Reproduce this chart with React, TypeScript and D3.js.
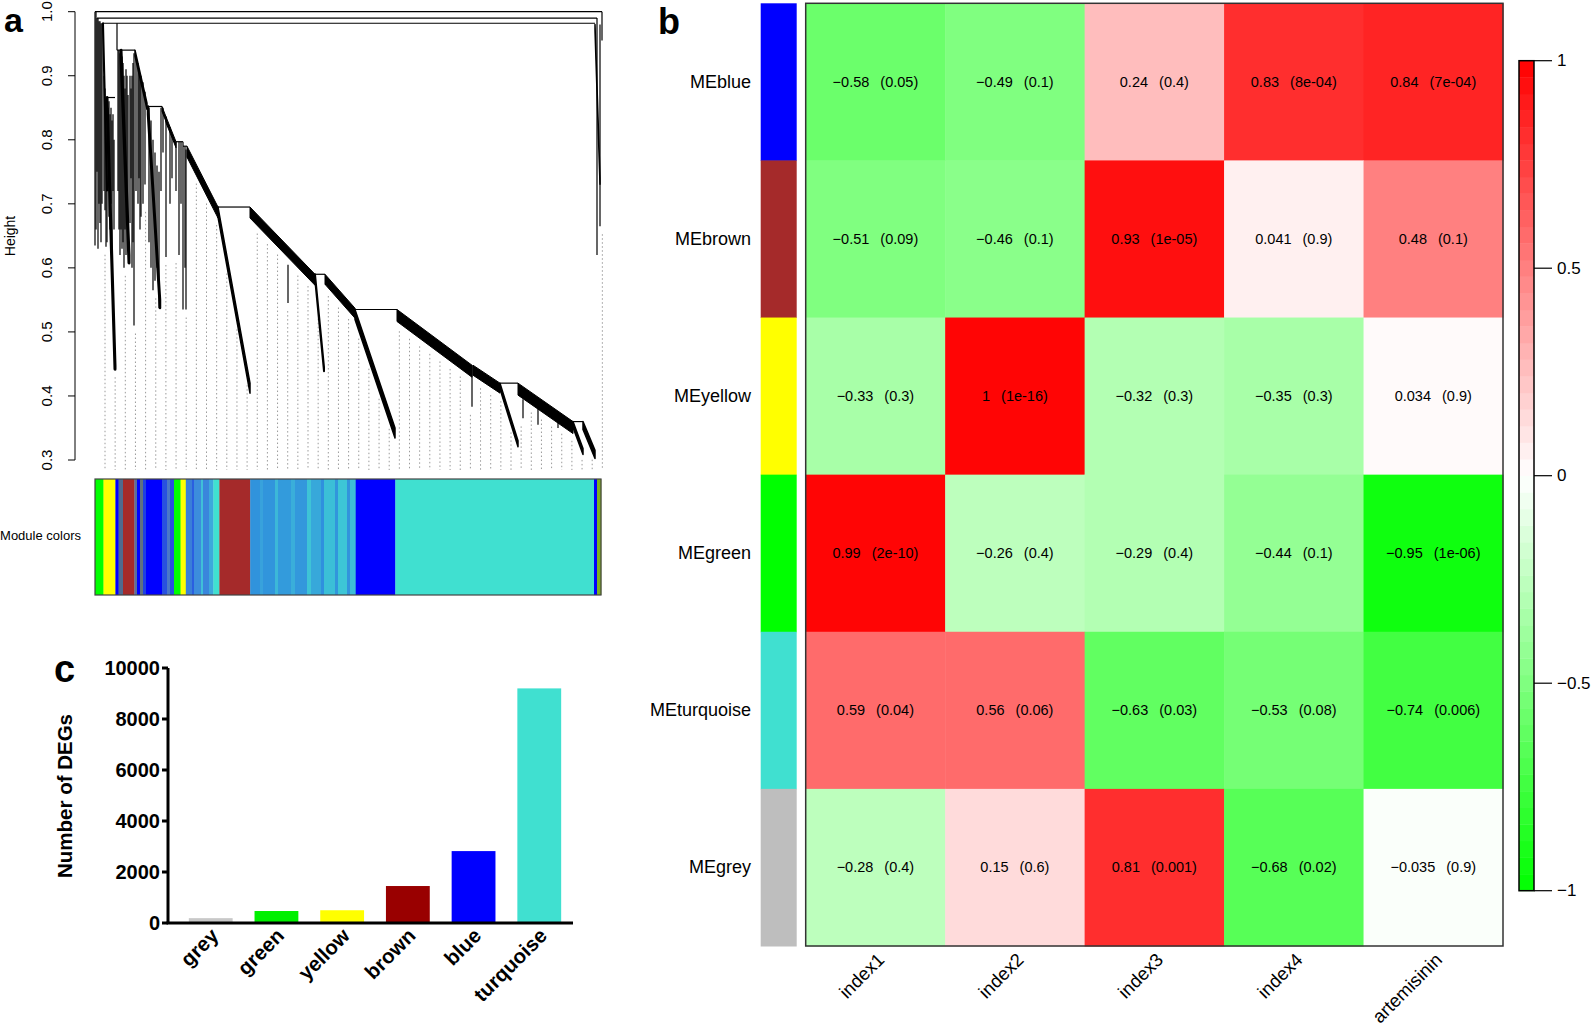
import React from "react";
import * as d3 from "d3";

const FONT = "'Liberation Sans', Arial, Helvetica, sans-serif";

// ---- panel a: gene dendrogram, x = leaf order (0..507), heights
// horizontal merge bars: [leafLeft, leafRight, height]
const dendroJoins = [
  [0, 507, 1.0],
  [2, 502, 0.99],
  [8, 500, 0.982],
  [11, 20, 0.866],
  [22, 40, 0.94],
  [53, 67, 0.852],
  [81, 88, 0.797],
  [88, 92, 0.79],
  [123, 155, 0.695],
  [220, 230, 0.59],
  [260, 302, 0.535],
  [405, 423, 0.42],
  [478, 488, 0.36],
];
// single branches: [leaf, heightTop, heightBottom]
const dendroStems = [
  [0, 1.0, 0.635], [1, 1.0, 0.66], [2, 0.99, 0.75], [3, 0.99, 0.63], [4, 0.985, 0.7],
  [5, 0.985, 0.67], [6, 0.982, 0.64], [7, 0.982, 0.7], [9, 0.9, 0.72], [10, 0.88, 0.69],
  [11, 0.866, 0.633], [12, 0.866, 0.64], [13, 0.85, 0.72], [14, 0.86, 0.68], [15, 0.84, 0.66],
  [16, 0.85, 0.7], [17, 0.83, 0.6], [18, 0.84, 0.72], [19, 0.8, 0.66], [22, 0.982, 0.94],
  [23, 0.94, 0.72], [24, 0.94, 0.66], [25, 0.935, 0.62], [26, 0.93, 0.66], [27, 0.93, 0.63],
  [28, 0.92, 0.64], [29, 0.9, 0.6], [30, 0.88, 0.66], [31, 0.91, 0.62], [32, 0.9, 0.7],
  [33, 0.87, 0.63], [35, 0.9, 0.67], [36, 0.88, 0.74], [37, 0.9, 0.6], [38, 0.92, 0.64],
  [39, 0.935, 0.51], [41, 0.93, 0.72], [43, 0.92, 0.7], [44, 0.91, 0.74], [45, 0.9, 0.66],
  [46, 0.9, 0.68], [48, 0.89, 0.7], [50, 0.875, 0.73], [54, 0.85, 0.64], [56, 0.83, 0.6],
  [58, 0.8, 0.565], [60, 0.78, 0.58], [62, 0.76, 0.6], [64, 0.75, 0.537], [66, 0.85, 0.72],
  [68, 0.85, 0.78], [71, 0.836, 0.617], [75, 0.82, 0.7], [77, 0.81, 0.74], [81, 0.797, 0.72],
  [84, 0.797, 0.62], [86, 0.797, 0.7], [88, 0.797, 0.535], [90, 0.79, 0.6], [91, 0.785, 0.535],
  [193, 0.605, 0.545], [377, 0.448, 0.383], [428, 0.395, 0.365], [443, 0.385, 0.355],
  [463, 0.37, 0.35], [502, 0.99, 0.62], [505, 0.98, 0.665], [507, 1.0, 0.955],
];
// dense chained clusters: [leafStart, hStart, leafEnd, hEnd, thickness px, stroke]
const dendroBands = [
  [8, 0.982, 12, 0.73, 6, 2],
  [12, 0.866, 20, 0.448, 4, 3],
  [26, 0.94, 34, 0.62, 8, 3],
  [40, 0.94, 52, 0.857, 6, 1.5],
  [53, 0.852, 65, 0.55, 8, 2.5],
  [67, 0.852, 71, 0.836, 5, 1],
  [71, 0.836, 81, 0.797, 6, 1],
  [92, 0.79, 123, 0.695, 11, 1],
  [123, 0.695, 155, 0.42, 10, 1.5],
  [155, 0.695, 220, 0.59, 11, 1],
  [220, 0.59, 229, 0.445, 4, 2],
  [230, 0.59, 260, 0.537, 10, 1],
  [260, 0.535, 300, 0.35, 10, 1.5],
  [302, 0.535, 377, 0.448, 12, 1],
  [378, 0.448, 405, 0.42, 10, 1],
  [405, 0.42, 423, 0.33, 6, 1.5],
  [423, 0.42, 478, 0.36, 12, 1],
  [478, 0.36, 488, 0.318, 6, 1.5],
  [488, 0.36, 500, 0.315, 8, 1.5],
  [500, 0.98, 505, 0.74, 6, 1.5],
];
// module colour strip: [leafStart, leafEnd, colour]
const moduleSegments: [number, number, string][] = [
  [0, 8.5, "#00ff00"], [8.5, 20.4, "#ffff00"], [20.4, 23.6, "#0000ff"], [23.6, 28, "#4f6a8f"],
  [28, 39.4, "#a52a2a"], [39.4, 42, "#5a6e9a"], [42, 45, "#0000ff"], [45, 48, "#607080"],
  [48, 51, "#1e40e0"], [51, 67, "#0000ff"], [67, 72, "#2850e0"], [72, 75, "#4a78c8"],
  [75, 79, "#2850e0"], [79, 85.6, "#00ff00"], [85.6, 90.8, "#ffff00"], [90.8, 97, "#3a7fd8"],
  [97, 99, "#2a5fe0"], [99, 106, "#3c8ddc"], [106, 108, "#40c0d8"], [108, 114, "#3a86dc"],
  [114, 118.4, "#3ca8dc"], [118.4, 124.4, "#40e0d0"], [124.4, 155.2, "#a52a2a"],
  [155.2, 165, "#3093dc"], [165, 168, "#38a2dc"], [168, 180, "#3195dc"], [180, 183, "#3cb8d8"],
  [183, 196, "#339bdc"], [196, 200, "#3aaeda"], [200, 212, "#3398dc"], [212, 216, "#3ec4d6"],
  [216, 226, "#37a8da"], [226, 229, "#2f90de"], [229, 240, "#3bbfd7"], [240, 243, "#3196dc"],
  [243, 252, "#3dc6d6"], [252, 255, "#3294dc"], [255, 260.7, "#3dbcd7"],
  [260.7, 300.3, "#0000ff"], [300.3, 499, "#40e0d0"], [499, 502, "#0000ff"], [502, 506, "#7fb020"],
];
const heightTicks = [0.3, 0.4, 0.5, 0.6, 0.7, 0.8, 0.9, 1.0];

// ---- panel b: module-trait relationships
const traits = ["index1", "index2", "index3", "index4", "artemisinin"];
const modules = ["MEblue", "MEbrown", "MEyellow", "MEgreen", "MEturquoise", "MEgrey"];
const moduleHex = ["#0000ff", "#a52a2a", "#ffff00", "#00ff00", "#40e0d0", "#bebebe"];
const corValues = [
  [-0.58, -0.49, 0.24, 0.83, 0.84],
  [-0.51, -0.46, 0.93, 0.041, 0.48],
  [-0.33, 1, -0.32, -0.35, 0.034],
  [0.99, -0.26, -0.29, -0.44, -0.95],
  [0.59, 0.56, -0.63, -0.53, -0.74],
  [-0.28, 0.15, 0.81, -0.68, -0.035],
];
const pValues = [
  ["0.05", "0.1", "0.4", "8e-04", "7e-04"],
  ["0.09", "0.1", "1e-05", "0.9", "0.1"],
  ["0.3", "1e-16", "0.3", "0.3", "0.9"],
  ["2e-10", "0.4", "0.4", "0.1", "1e-06"],
  ["0.04", "0.06", "0.03", "0.08", "0.006"],
  ["0.4", "0.6", "0.001", "0.02", "0.9"],
];
const legendTicks = [1, 0.5, 0, -0.5, -1];

// ---- panel c: DEGs per module
const degModules = ["grey", "green", "yellow", "brown", "blue", "turquoise"];
const degCounts = [190, 470, 500, 1450, 2820, 9200];
const degColors = ["#c8c8c8", "#00f000", "#ffff00", "#990000", "#0000ff", "#40e0d0"];
const degTicks = [0, 2000, 4000, 6000, 8000, 10000];

const minus = (s: string) => s.replace("-", "\u2212");

function PanelA() {
  const x = d3.scaleLinear().domain([0, 507]).range([95, 602]);
  const y = d3.scaleLinear().domain([0.3, 1]).range([460, 11.7]);

  // lowest drawn point of the tree above a leaf position, for the dotted guides
  const bottomAt = (leaf: number) => {
    let low = -1;
    dendroBands.forEach(([xs, hs, xe, he, t]) => {
      if (leaf >= xs - 2 && leaf <= xe + 2) {
        const f = Math.max(0, Math.min(1, (leaf - xs) / (xe - xs)));
        low = Math.max(low, y(hs + (he - hs) * f) + t);
      }
    });
    dendroStems.forEach(([s, , hb]) => {
      if (Math.abs(s - leaf) <= 3) low = Math.max(low, y(hb));
    });
    return low < 0 ? y(0.75) : low;
  };
  const guides = d3.range(10, 508, 10.15);

  return (
    <g>
      <text x={4} y={32} fontSize={34} fontWeight="bold" fontFamily={FONT}>a</text>
      <line x1={75} x2={75} y1={y(1)} y2={y(0.3)} stroke="#000" strokeWidth={1} />
      {heightTicks.map((t) => (
        <g key={t}>
          <line x1={68} x2={75} y1={y(t)} y2={y(t)} stroke="#000" />
          <text transform={`translate(52,${y(t)}) rotate(-90)`} textAnchor="middle"
            fontSize={15} fontFamily={FONT}>{t.toFixed(1)}</text>
        </g>
      ))}
      <text transform="translate(15,236) rotate(-90)" textAnchor="middle" fontSize={14}
        fontFamily={FONT}>Height</text>

      {guides.map((g) => (
        <line key={g} x1={x(g)} x2={x(g)} y1={bottomAt(g) + 8} y2={470}
          stroke="#9a9a9a" strokeWidth={1} strokeDasharray="1.5,2.5" />
      ))}

      {dendroJoins.map(([a, b, h], i) => (
        <line key={"j" + i} x1={x(a)} x2={x(b)} y1={y(h)} y2={y(h)} stroke="#000" strokeWidth={1.2} />
      ))}
      {dendroStems.map(([s, ht, hb], i) => (
        <line key={"s" + i} x1={x(s)} x2={x(s)} y1={y(ht)} y2={y(hb)} stroke="#000" strokeWidth={1.2} />
      ))}
      {dendroBands.map(([xs, hs, xe, he, t, sw], i) => (
        <polygon key={"b" + i}
          points={`${x(xs)},${y(hs)} ${x(xe)},${y(he)} ${x(xe)},${y(he) + t} ${x(xs)},${y(hs) + t}`}
          fill="#000" stroke="#000" strokeWidth={sw} strokeLinejoin="round" />
      ))}

      {moduleSegments.map(([a, b, c], i) => (
        <rect key={"m" + i} x={x(a)} y={479} width={x(b) - x(a) + 0.3} height={116} fill={c} />
      ))}
      <rect x={x(0)} y={479} width={x(506) - x(0)} height={116} fill="none" stroke="#444" strokeWidth={1.2} />
      <text x={81} y={540} textAnchor="end" fontSize={13} fontFamily={FONT}>Module colors</text>
    </g>
  );
}

function PanelB() {
  const xb = d3.scaleBand<string>().domain(traits).range([805.7, 1503]);
  const yb = d3.scaleBand<string>().domain(modules).range([3.3, 946]);
  const ramp = d3.scaleLinear<string>().domain([-1, 0, 1]).range(["#00ff00", "#ffffff", "#ff0000"]);
  const nCol = 50;
  const palette = d3.range(nCol).map((i) => ramp(-1 + ((i + 0.5) * 2) / nCol));
  const colorOf = d3.scaleQuantize<string>().domain([-1, 1]).range(palette);
  const yl = d3.scaleLinear().domain([-1, 1]).range([890.7, 60.7]);
  const step = 2 / nCol;

  return (
    <g fontFamily={FONT}>
      <text x={658} y={34} fontSize={36} fontWeight="bold">b</text>
      {modules.map((m, r) => (
        <g key={m}>
          <rect x={760.7} y={yb(m)!} width={36} height={yb.bandwidth() + 0.5} fill={moduleHex[r]} />
          <text x={751} y={yb(m)! + yb.bandwidth() / 2} textAnchor="end" dominantBaseline="central"
            fontSize={18}>{m}</text>
          {traits.map((t, c) => (
            <g key={t}>
              <rect x={xb(t)!} y={yb(m)!} width={xb.bandwidth() + 0.5} height={yb.bandwidth() + 0.5}
                fill={colorOf(corValues[r][c])} />
              <text x={xb(t)! + xb.bandwidth() / 2} y={yb(m)! + yb.bandwidth() / 2} textAnchor="middle"
                dominantBaseline="central" fontSize={14.5}>
                <tspan>{minus(String(corValues[r][c]))}</tspan>
                <tspan dx={11}>({pValues[r][c]})</tspan>
              </text>
            </g>
          ))}
        </g>
      ))}
      <rect x={805.7} y={3.3} width={1503 - 805.7} height={946 - 3.3} fill="none" stroke="#333" strokeWidth={1.5} />
      {traits.map((t) => (
        <text key={t} transform={`translate(${xb(t)! + xb.bandwidth() / 2 + 10},961) rotate(-45)`}
          textAnchor="end" fontSize={18.5}>{t}</text>
      ))}

      {palette.map((c, i) => (
        <rect key={i} x={1519} y={yl(-1 + (i + 1) * step)} width={15}
          height={yl(-1 + i * step) - yl(-1 + (i + 1) * step) + 0.4} fill={c} />
      ))}
      <rect x={1519} y={yl(1)} width={15} height={yl(-1) - yl(1)} fill="none" stroke="#000" strokeWidth={1.5} />
      {legendTicks.map((v) => (
        <g key={v}>
          <line x1={1534} x2={1552} y1={yl(v)} y2={yl(v)} stroke="#000" strokeWidth={1.2} />
          <text x={1557} y={yl(v)} dominantBaseline="central" fontSize={17}>{minus(String(v))}</text>
        </g>
      ))}
    </g>
  );
}

function PanelC() {
  const axisX = 168;
  const xc = d3.scaleBand<string>().domain(degModules).range([177, 573]).paddingInner(0.333).paddingOuter(0.18);
  const yc = d3.scaleLinear().domain([0, 10000]).range([923, 668]);
  return (
    <g fontFamily={FONT} fontWeight="bold">
      <text x={54} y={682} fontSize={38}>c</text>
      {degModules.map((m, i) => (
        <rect key={m} x={xc(m)!} y={yc(degCounts[i])} width={xc.bandwidth()} height={yc(0) - yc(degCounts[i])}
          fill={degColors[i]} />
      ))}
      <line x1={axisX} x2={axisX} y1={yc(10000)} y2={yc(0)} stroke="#000" strokeWidth={3} />
      <line x1={axisX - 1.5} x2={573} y1={yc(0)} y2={yc(0)} stroke="#000" strokeWidth={3} />
      {degTicks.map((t) => (
        <g key={t}>
          <line x1={axisX - 6} x2={axisX} y1={yc(t)} y2={yc(t)} stroke="#000" strokeWidth={3} />
          <text x={axisX - 8} y={yc(t)} textAnchor="end" dominantBaseline="central" fontSize={20}>{t}</text>
        </g>
      ))}
      <text transform="translate(72,796) rotate(-90)" textAnchor="middle" fontSize={20.5}>Number of DEGs</text>
      {degModules.map((m) => (
        <text key={m} transform={`translate(${xc(m)! + xc.bandwidth() / 2 + 9},937) rotate(-45)`}
          textAnchor="end" fontSize={20.5}>{m}</text>
      ))}
    </g>
  );
}

export default function App() {
  return (
    <svg width={1594} height={1032} style={{ position: "absolute", left: 0, top: 0, background: "#fff" }}>
      <PanelA />
      <PanelB />
      <PanelC />
    </svg>
  );
}
